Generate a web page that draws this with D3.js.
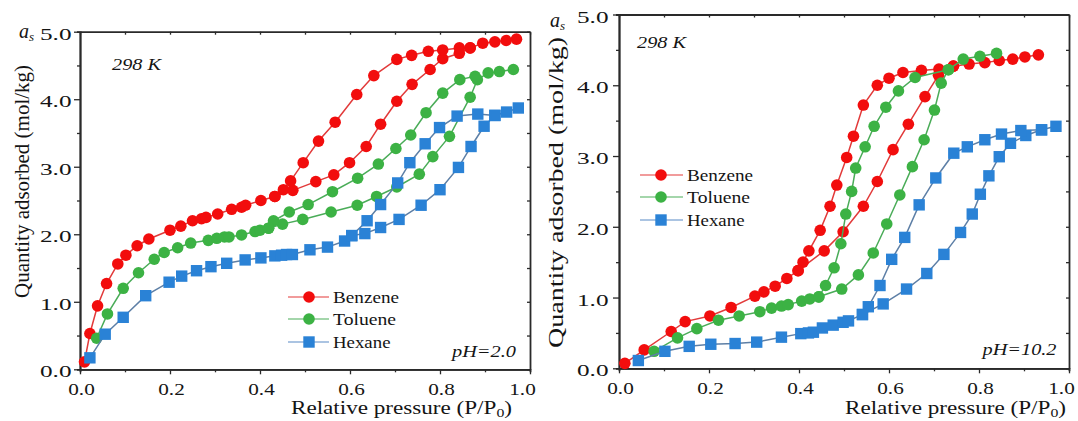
<!DOCTYPE html>
<html lang="en">
<head>
<meta charset="UTF-8">
<title>Adsorption isotherms, pH 2.0 and pH 10.2</title>
<script src="https://d3js.org/d3.v7.min.js"></script>
<style>
  html, body { margin: 0; padding: 0; background: #fff; }
  svg { display: block; }
  text { font-family: "Liberation Serif", "Times New Roman", serif; fill: #141414; }
</style>
</head>
<body>
<script>
// ---- data : [P/P0, quantity adsorbed mol/kg] ----
const seriesNames = ["Benzene", "Toluene", "Hexane"];
const xTicks = [0, 0.2, 0.4, 0.6, 0.8, 1.0];
const xMinorTicks = [0.1, 0.3, 0.5, 0.7, 0.9];
const yTicks = [0, 1, 2, 3, 4, 5];
const yMinorTicks = [0.5, 1.5, 2.5, 3.5, 4.5];

// pH = 2.0 (left)
const acidBenzeneAds = [[0.010,0.11],[0.022,0.53],[0.039,0.94],[0.059,1.27],[0.084,1.56],[0.102,1.69],[0.127,1.83],[0.153,1.93],[0.200,2.06],[0.224,2.12],[0.250,2.20],[0.270,2.23],[0.280,2.25],[0.306,2.30],[0.337,2.37],[0.359,2.40],[0.368,2.43],[0.402,2.50],[0.433,2.56],[0.473,2.65],[0.524,2.78],[0.564,2.88],[0.599,3.06],[0.636,3.30],[0.668,3.63],[0.704,3.97],[0.738,4.22],[0.778,4.44],[0.806,4.60],[0.843,4.68],[0.867,4.76],[0.895,4.83],[0.922,4.85],[0.947,4.87],[0.970,4.89]];
const acidBenzeneDes = [[0.867,4.76],[0.843,4.76],[0.806,4.73],[0.774,4.71],[0.737,4.65],[0.704,4.59],[0.653,4.35],[0.615,4.07],[0.567,3.66],[0.530,3.38],[0.496,3.06],[0.468,2.79],[0.452,2.66],[0.433,2.56]];
const acidTolueneAds = [[0.037,0.46],[0.061,0.82],[0.096,1.20],[0.130,1.43],[0.165,1.63],[0.187,1.73],[0.217,1.80],[0.246,1.87],[0.285,1.91],[0.304,1.94],[0.321,1.96],[0.331,1.96],[0.359,1.99],[0.389,2.04],[0.400,2.06],[0.419,2.09],[0.450,2.15],[0.495,2.22],[0.558,2.33],[0.616,2.43],[0.659,2.56],[0.704,2.70],[0.754,2.89],[0.784,3.15],[0.821,3.45],[0.867,4.03],[0.883,4.29],[0.907,4.39],[0.932,4.41],[0.963,4.44]];
const acidTolueneDes = [[0.878,4.34],[0.844,4.29],[0.806,4.09],[0.769,3.80],[0.735,3.47],[0.702,3.27],[0.663,3.04],[0.617,2.83],[0.561,2.63],[0.507,2.44],[0.465,2.33],[0.430,2.20],[0.419,2.09]];
const acidHexaneAds = [[0.022,0.17],[0.056,0.52],[0.096,0.77],[0.146,1.09],[0.198,1.29],[0.226,1.38],[0.259,1.46],[0.291,1.52],[0.326,1.57],[0.367,1.62],[0.402,1.65],[0.433,1.68],[0.448,1.69],[0.459,1.70],[0.472,1.70],[0.511,1.77],[0.550,1.81],[0.588,1.90],[0.604,1.98],[0.633,2.01],[0.668,2.10],[0.709,2.22],[0.758,2.43],[0.800,2.66],[0.841,2.99],[0.869,3.30],[0.898,3.60],[0.922,3.76],[0.948,3.81],[0.974,3.87]];
const acidHexaneDes = [[0.922,3.76],[0.884,3.78],[0.838,3.75],[0.799,3.58],[0.767,3.34],[0.733,3.06],[0.706,2.76],[0.668,2.44],[0.638,2.20],[0.604,1.98]];

// pH = 10.2 (right)
const baseBenzeneAds = [[0.013,0.07],[0.056,0.26],[0.116,0.52],[0.147,0.66],[0.202,0.74],[0.249,0.86],[0.302,1.02],[0.322,1.08],[0.347,1.16],[0.373,1.27],[0.398,1.38],[0.456,1.66],[0.498,1.93],[0.543,2.29],[0.574,2.64],[0.609,3.09],[0.643,3.45],[0.680,3.84],[0.710,4.14],[0.743,4.27],[0.778,4.30],[0.813,4.32],[0.845,4.35],[0.875,4.37],[0.902,4.40],[0.932,4.43]];
const baseBenzeneDes = [[0.743,4.27],[0.711,4.23],[0.672,4.21],[0.631,4.18],[0.600,4.10],[0.574,4.00],[0.543,3.72],[0.521,3.28],[0.506,2.98],[0.484,2.59],[0.469,2.29],[0.447,1.95],[0.422,1.66],[0.409,1.50],[0.398,1.38]];
const baseTolueneAds = [[0.078,0.24],[0.130,0.43],[0.173,0.56],[0.221,0.68],[0.267,0.74],[0.313,0.80],[0.339,0.85],[0.361,0.88],[0.376,0.90],[0.406,0.95],[0.424,0.98],[0.444,1.01],[0.495,1.12],[0.532,1.32],[0.565,1.63],[0.595,2.04],[0.624,2.45],[0.652,2.85],[0.678,3.23],[0.701,3.65],[0.716,4.03],[0.732,4.22],[0.765,4.37],[0.802,4.41],[0.839,4.45]];
const baseTolueneDes = [[0.732,4.22],[0.658,4.11],[0.621,3.92],[0.593,3.69],[0.567,3.42],[0.547,3.13],[0.526,2.83],[0.517,2.50],[0.504,2.18],[0.493,1.76],[0.478,1.42],[0.459,1.17],[0.444,1.01]];
const baseHexaneAds = [[0.043,0.11],[0.102,0.24],[0.156,0.31],[0.204,0.34],[0.258,0.35],[0.306,0.37],[0.361,0.44],[0.404,0.49],[0.421,0.50],[0.432,0.51],[0.452,0.57],[0.476,0.61],[0.498,0.65],[0.510,0.67],[0.541,0.76],[0.587,0.91],[0.639,1.12],[0.684,1.34],[0.722,1.61],[0.759,1.92],[0.785,2.18],[0.803,2.46],[0.822,2.72],[0.845,2.99],[0.870,3.18],[0.904,3.29],[0.939,3.37],[0.971,3.42]];
const baseHexaneDes = [[0.939,3.37],[0.893,3.36],[0.850,3.31],[0.813,3.23],[0.774,3.13],[0.744,3.04],[0.704,2.69],[0.667,2.31],[0.635,1.85],[0.606,1.54],[0.580,1.17],[0.554,0.87],[0.541,0.76]];

// ---- styles ----
const markerFill = ["#f20d0d", "#3cb244", "#2a82d6"];
const lineColor = ["#e23a3a", "#4aac58", "#5d7fa6"];
const legendLine = ["#ec7a7a", "#86c98f", "#8fb0d8"];
const shapes = ["circle", "circle", "square"];
const legendTextLen = [66, 63, 57.5];

const w = 1078, h = 421;
const svg = d3.select("body").append("svg").attr("width", w).attr("height", h);

const panels = [
  { x0: 80, x1: 530, y0: 369.3, y1: 31.7,
    data: [[acidBenzeneAds, acidBenzeneDes], [acidTolueneAds, acidTolueneDes], [acidHexaneAds, acidHexaneDes]],
    yLabelPad: 2.5, yTitle: { x: 22, y: 181.5, len: 233 }, xTitle: { x: 291, len: 221 },
    asPos: [19, 38], tempPos: [112, 70], ph: "pH=2.0", phPos: [516, 356.5], phLen: 64,
    legend: { x: 288, marker: 309, text: 333, ys: [297, 319, 342] } },
  { x0: 619, x1: 1069, y0: 368.3, y1: 14.5,
    data: [[baseBenzeneAds, baseBenzeneDes], [baseTolueneAds, baseTolueneDes], [baseHexaneAds, baseHexaneDes]],
    yLabelPad: 4.5, yTitle: { x: 556, y: 192.5, len: 311 }, xTitle: { x: 845, len: 221 },
    asPos: [550, 27], tempPos: [637, 48], ph: "pH=10.2", phPos: [1056.5, 355], phLen: 74,
    legend: { x: 640, marker: 661, text: 687, ys: [175, 197, 220] } }
];

function styleAxis(g) {
  g.attr("color", "#2a2a2a").attr("font-family", null).attr("font-size", 17);
  g.select(".domain").attr("stroke-width", 1.8);
  g.selectAll(".tick line").attr("stroke-width", 1.3);
}

function drawMarker(g, shape, cx, cy, fill) {
  if (shape === "circle") {
    g.append("circle").attr("cx", cx).attr("cy", cy).attr("r", 5.8).attr("fill", fill);
  } else {
    g.append("rect").attr("x", cx - 5.7).attr("y", cy - 5.7)
      .attr("width", 11.4).attr("height", 11.4).attr("fill", fill);
  }
}

function drawPanel(p) {
  const x = d3.scaleLinear().domain([0, 1]).range([p.x0, p.x1]);
  const y = d3.scaleLinear().domain([0, 5]).range([p.y0, p.y1]);
  const g = svg.append("g");

  // frame: top & right with inward ticks
  g.append("g").attr("transform", `translate(0,${p.y1})`)
    .call(d3.axisTop(x).tickValues(xTicks.concat(xMinorTicks)).tickSizeInner(-3).tickSizeOuter(0).tickFormat(""))
    .call(styleAxis);
  g.append("g").attr("transform", `translate(${p.x1},0)`)
    .call(d3.axisRight(y).tickValues(yTicks.concat(yMinorTicks)).tickSizeInner(-3).tickSizeOuter(0).tickFormat(""))
    .call(styleAxis);

  // bottom axis
  g.append("g").attr("transform", `translate(0,${p.y0})`)
    .call(d3.axisBottom(x).tickValues(xMinorTicks).tickSize(3).tickFormat(""))
    .call(styleAxis);
  const xa = g.append("g").attr("transform", `translate(0,${p.y0})`)
    .call(d3.axisBottom(x).tickValues(xTicks).tickSize(5).tickSizeOuter(0).tickPadding(8.5).tickFormat(d3.format(".1f")))
    .call(styleAxis);
  xa.selectAll(".tick text")
    .attr("textLength", 26.5).attr("lengthAdjust", "spacingAndGlyphs")
    .attr("dx", d => d === 1 ? -8 : 1);

  // left axis
  g.append("g").attr("transform", `translate(${p.x0},0)`)
    .call(d3.axisLeft(y).tickValues(yMinorTicks).tickSize(3).tickFormat(""))
    .call(styleAxis);
  const ya = g.append("g").attr("transform", `translate(${p.x0},0)`)
    .call(d3.axisLeft(y).tickValues(yTicks).tickSize(6).tickSizeOuter(0).tickPadding(p.yLabelPad).tickFormat(d3.format(".1f")))
    .call(styleAxis);
  ya.selectAll(".tick text")
    .attr("textLength", 31.5).attr("lengthAdjust", "spacingAndGlyphs")
    .attr("dy", "0.45em");

  // a_s label
  const as = g.append("text").attr("x", p.asPos[0]).attr("y", p.asPos[1])
    .attr("font-size", 20).attr("font-style", "italic");
  as.append("tspan").text("a");
  as.append("tspan").attr("font-size", 13).attr("dy", 3).text("s");

  // axis titles
  g.append("text")
    .attr("transform", `translate(${p.yTitle.x},${p.yTitle.y}) rotate(-90)`)
    .attr("text-anchor", "middle").attr("dy", "0.35em")
    .attr("font-size", 20)
    .attr("textLength", p.yTitle.len).attr("lengthAdjust", "spacingAndGlyphs")
    .text("Quantity adsorbed (mol/kg)");
  const xt = g.append("text").attr("x", p.xTitle.x).attr("y", 414)
    .attr("font-size", 19)
    .attr("textLength", p.xTitle.len).attr("lengthAdjust", "spacingAndGlyphs");
  xt.append("tspan").text("Relative pressure (P/P");
  xt.append("tspan").attr("font-size", 13).attr("dy", 3).text("0");
  xt.append("tspan").attr("dy", -3).text(")");

  // annotations
  g.append("text").attr("x", p.tempPos[0]).attr("y", p.tempPos[1])
    .attr("font-size", 17).attr("font-style", "italic")
    .attr("textLength", 49).attr("lengthAdjust", "spacingAndGlyphs")
    .text("298 K");
  g.append("text").attr("x", p.phPos[0]).attr("y", p.phPos[1])
    .attr("text-anchor", "end")
    .attr("font-size", 17).attr("font-style", "italic")
    .attr("textLength", p.phLen).attr("lengthAdjust", "spacingAndGlyphs")
    .text(p.ph);

  // series
  const line = d3.line().x(d => x(d[0])).y(d => y(d[1]));
  p.data.forEach((branches, i) => {
    const sg = g.append("g");
    branches.forEach(br => {
      sg.append("path").attr("d", line(br))
        .attr("fill", "none").attr("stroke", lineColor[i]).attr("stroke-width", 1.5);
    });
    branches.forEach(br => {
      br.forEach(d => drawMarker(sg, shapes[i], x(d[0]), y(d[1]), markerFill[i]));
    });
  });

  // legend
  const lg = g.append("g");
  seriesNames.forEach((name, i) => {
    const ly = p.legend.ys[i];
    lg.append("line").attr("x1", p.legend.x).attr("x2", p.legend.text - 4)
      .attr("y1", ly).attr("y2", ly)
      .attr("stroke", legendLine[i]).attr("stroke-width", 1.5);
    drawMarker(lg, shapes[i], p.legend.marker, ly, markerFill[i]);
    lg.append("text").attr("x", p.legend.text).attr("y", ly + 5.5)
      .attr("font-size", 17)
      .attr("textLength", legendTextLen[i]).attr("lengthAdjust", "spacingAndGlyphs")
      .text(name);
  });
}

panels.forEach(drawPanel);
</script>
</body>
</html>
